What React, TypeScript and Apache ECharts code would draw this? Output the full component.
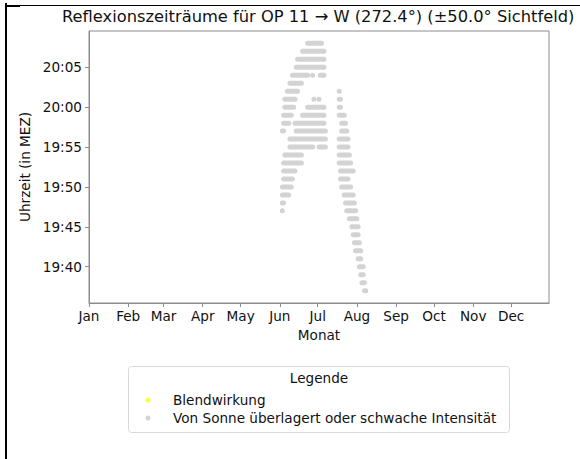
import React, { useEffect, useRef } from "react";
import * as echarts from "echarts";

const monthLabels = ["Jan", "Feb", "Mar", "Apr", "May", "Jun", "Jul", "Aug", "Sep", "Oct", "Nov", "Dec"];
const monthStartDays = [0, 31, 59, 90, 120, 151, 181, 212, 243, 273, 304, 334];
const timeTicks = [1180, 1185, 1190, 1195, 1200, 1205]; // minutes after midnight (19:40 ... 20:05)
const dayRange = [0, 364];
const minuteRange = [1175.45, 1209.55];

// Runs of consecutive days with a reflection at a given minute:
// [minute of day, first day-of-year, last day-of-year]
const overlaidRuns: [number, number, number][] = [
  [1208, 173, 184],
  [1207, 169, 186],
  [1206, 165, 186],
  [1205, 164, 186],
  [1204, 161, 173], [1204, 177, 177], [1204, 183, 186],
  [1203, 159, 168],
  [1202, 157, 165], [1202, 198, 198],
  [1201, 155, 163], [1201, 178, 178], [1201, 182, 182], [1201, 198, 199],
  [1200, 155, 162], [1200, 173, 186], [1200, 198, 199],
  [1199, 154, 160], [1199, 169, 186], [1199, 198, 202],
  [1198, 154, 158], [1198, 163, 186], [1198, 200, 203],
  [1197, 153, 154], [1197, 164, 187], [1197, 200, 204],
  [1196, 159, 187], [1196, 198, 205],
  [1195, 159, 177], [1195, 182, 187], [1195, 198, 205],
  [1194, 155, 168], [1194, 198, 206],
  [1193, 154, 168], [1193, 198, 207],
  [1192, 154, 163], [1192, 199, 209],
  [1191, 154, 161], [1191, 199, 205],
  [1190, 153, 160], [1190, 200, 207],
  [1189, 153, 158], [1189, 202, 209],
  [1188, 153, 154], [1188, 203, 210],
  [1187, 153, 153], [1187, 204, 211],
  [1186, 206, 212],
  [1185, 208, 213],
  [1184, 209, 213],
  [1183, 210, 214],
  [1182, 211, 215],
  [1181, 213, 215],
  [1180, 214, 217],
  [1179, 215, 217],
  [1178, 216, 218],
  [1177, 218, 219],
];
const glarePoints: [number, number][] = [];

const FONT = "DejaVu Sans";
const FS = 13.6;
const TXT = "#111";
const SPINE = "#8c8c8c";
const GRAY = "#d3d3d3";
const YELLOW = "#ffff00";

const fmtTime = (v: number) => {
  const m = Math.round(v);
  return `${Math.floor(m / 60)}:${String(m % 60).padStart(2, "0")}`;
};

export default function App() {
  const ref = useRef<HTMLDivElement>(null);
  useEffect(() => {
    if (!ref.current) return;
    const chart = echarts.init(ref.current, null, { renderer: "svg" });
    const R = 2.5;
    chart.setOption({
      animation: false,
      backgroundColor: "#ffffff",
      textStyle: { fontFamily: FONT, color: TXT },
      title: {
        text: "Reflexionszeiträume für OP 11 → W (272.4°) (±50.0° Sichtfeld)",
        left: 62,
        top: 8,
        padding: 0,
        textStyle: { fontFamily: FONT, fontSize: 16.3, fontWeight: "normal", color: TXT },
      },
      grid: {
        left: 89,
        right: 31,
        top: 31,
        bottom: 156,
        show: true,
        borderColor: SPINE,
        borderWidth: 1,
        backgroundColor: "#ffffff",
      },
      xAxis: {
        type: "value",
        min: dayRange[0],
        max: dayRange[1],
        name: "Monat",
        nameLocation: "middle",
        nameGap: 24,
        nameTextStyle: { fontFamily: FONT, fontSize: FS, color: TXT },
        axisLine: { show: true, lineStyle: { color: SPINE } },
        axisTick: { show: true, length: 4, customValues: monthStartDays, lineStyle: { color: SPINE } },
        axisLabel: {
          customValues: monthStartDays,
          margin: 6,
          fontFamily: FONT,
          fontSize: FS,
          color: TXT,
          formatter: (v: number) => monthLabels[monthStartDays.indexOf(v)] ?? "",
        },
        splitLine: { show: false },
      },
      yAxis: {
        type: "value",
        min: minuteRange[0],
        max: minuteRange[1],
        name: "Uhrzeit (in MEZ)",
        nameLocation: "middle",
        nameGap: 44,
        nameTextStyle: { fontFamily: FONT, fontSize: FS, color: TXT },
        axisLine: { show: true, lineStyle: { color: SPINE } },
        axisTick: { show: true, length: 4, customValues: timeTicks, lineStyle: { color: SPINE } },
        axisLabel: {
          customValues: timeTicks,
          margin: 7,
          fontFamily: FONT,
          fontSize: FS,
          color: TXT,
          formatter: (v: number) => fmtTime(v),
        },
        splitLine: { show: false },
      },
      legend: {
        orient: "vertical",
        left: 145.5,
        top: 392,
        padding: 0,
        itemWidth: 40,
        itemHeight: 5,
        itemGap: 2,
        selectedMode: false,
        textStyle: { fontFamily: FONT, fontSize: FS, color: TXT, lineHeight: 16 },
        data: [
          { name: "Blendwirkung", icon: "circle", itemStyle: { color: YELLOW } },
          { name: "Von Sonne überlagert oder schwache Intensität", icon: "circle", itemStyle: { color: GRAY } },
        ],
      },
      graphic: [
        { type: "rect", shape: { x: 5, y: 3, width: 2, height: 456 }, style: { fill: "#000" }, z: 100 },
        { type: "rect", shape: { x: 5, y: 5, width: 575, height: 1 }, style: { fill: "#000" }, z: 100 },
        { type: "rect", shape: { x: 7, y: 5, width: 13, height: 2 }, style: { fill: "#000" }, z: 100 },
        {
          type: "rect",
          shape: { x: 128.5, y: 366.5, width: 381, height: 66, r: 3 },
          style: { fill: "#ffffff", stroke: "#d9d9d9", lineWidth: 1 },
          z: 0,
        },
        {
          type: "text",
          x: 319,
          y: 378,
          style: {
            text: "Legende",
            fontFamily: FONT,
            fontSize: FS,
            fill: TXT,
            textAlign: "center",
            textVerticalAlign: "middle",
          },
          z: 1,
        },
      ],
      series: [
        {
          name: "Blendwirkung",
          type: "scatter",
          symbol: "circle",
          symbolSize: 5,
          itemStyle: { color: YELLOW },
          data: glarePoints,
        },
        {
          name: "Von Sonne überlagert oder schwache Intensität",
          type: "custom",
          itemStyle: { color: GRAY },
          encode: { x: [1, 2], y: 0 },
          data: overlaidRuns,
          renderItem: (_params: any, api: any) => {
            const m = api.value(0);
            const s = api.coord([api.value(1), m]);
            const e = api.coord([api.value(2), m]);
            return {
              type: "rect",
              shape: { x: s[0] - R, y: s[1] - R, width: e[0] - s[0] + 2 * R, height: 2 * R, r: R },
              style: { fill: GRAY },
            };
          },
        },
      ],
    });
    return () => chart.dispose();
  }, []);
  return (
    <div
      ref={ref}
      style={{ position: "fixed", left: 0, top: 0, width: 580, height: 459, background: "#fff" }}
    />
  );
}
